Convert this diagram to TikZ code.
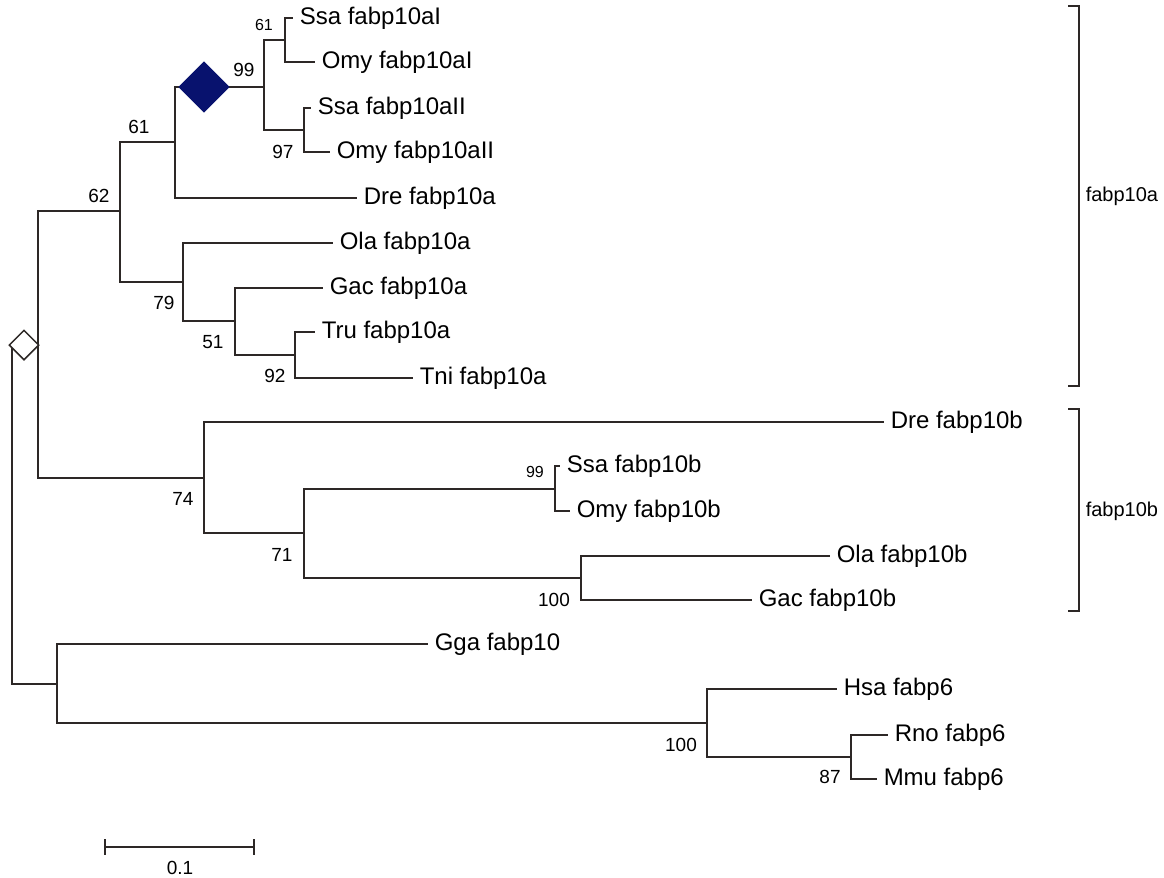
\documentclass[tikz,border=0pt]{standalone}
\usepackage{fontspec}
\setmainfont{Liberation Sans}
\usetikzlibrary{shapes.geometric}
\definecolor{navy}{RGB}{8,18,110}
\definecolor{treeline}{RGB}{45,40,38}

\begin{document}
\begin{tikzpicture}[x=0.5pt,y=-0.5pt,line width=0.75pt,draw=treeline,
  leaf/.style={anchor=west,inner xsep=3pt,inner ysep=0pt,font=\fontsize{12}{14}\selectfont},
  boot/.style={inner sep=0pt,font=\fontsize{9.5}{11}\selectfont},
  bootsmall/.style={inner sep=0pt,font=\fontsize{8}{10}\selectfont},
  clade/.style={anchor=west,inner sep=0pt,font=\fontsize{10}{12}\selectfont}]
\useasboundingbox[fill=white] (0,0) rectangle (1164,878);

% Knoten
\coordinate (root) at (12,345);
\coordinate (nfish) at (38,345);
\coordinate (n62) at (120,211);
\coordinate (n61) at (175,142);
\coordinate (n99) at (264,87);
\coordinate (n61t) at (285,40);
\coordinate (n97) at (304,130);
\coordinate (n79) at (183,282);
\coordinate (n51) at (235,321);
\coordinate (n92) at (295,355);
\coordinate (n74) at (204,478);
\coordinate (n71) at (304,533);
\coordinate (n99b) at (555,489);
\coordinate (n100b) at (581,578);
\coordinate (nout) at (57,684);
\coordinate (n100c) at (707,723);
\coordinate (n87) at (851,757);

% Blaetter
\node[leaf] (ssaI) at (293,18) {Ssa fabp10aI};
\node[leaf] (omyI) at (315,62) {Omy fabp10aI};
\node[leaf] (ssaII) at (311,108) {Ssa fabp10aII};
\node[leaf] (omyII) at (330,152) {Omy fabp10aII};
\node[leaf] (drea) at (357,198) {Dre fabp10a};
\node[leaf] (olaa) at (333,243) {Ola fabp10a};
\node[leaf] (gaca) at (323,288) {Gac fabp10a};
\node[leaf] (trua) at (315,332) {Tru fabp10a};
\node[leaf] (tnia) at (413,378) {Tni fabp10a};
\node[leaf] (dreb) at (884,422) {Dre fabp10b};
\node[leaf] (ssab) at (560,466) {Ssa fabp10b};
\node[leaf] (omyb) at (570,511) {Omy fabp10b};
\node[leaf] (olab) at (830,556) {Ola fabp10b};
\node[leaf] (gacb) at (752,600) {Gac fabp10b};
\node[leaf] (gga) at (428,644) {Gga fabp10};
\node[leaf] (hsa) at (837,689) {Hsa fabp6};
\node[leaf] (rno) at (888,735) {Rno fabp6};
\node[leaf] (mmu) at (877,779) {Mmu fabp6};

% Aeste
\draw (root) -- (nfish);
\draw (root) |- (nout);
\draw (nfish) |- (n62);
\draw (nfish) |- (n74);
\draw (n62) |- (n61);
\draw (n62) |- (n79);
\draw (n61) |- (n99);
\draw (n61) |- (drea.west);
\draw (n99) |- (n61t);
\draw (n99) |- (n97);
\draw (n61t) |- (ssaI.west);
\draw (n61t) |- (omyI.west);
\draw (n97) |- (ssaII.west);
\draw (n97) |- (omyII.west);
\draw (n79) |- (olaa.west);
\draw (n79) |- (n51);
\draw (n51) |- (gaca.west);
\draw (n51) |- (n92);
\draw (n92) |- (trua.west);
\draw (n92) |- (tnia.west);
\draw (n74) |- (dreb.west);
\draw (n74) |- (n71);
\draw (n71) |- (n99b);
\draw (n71) |- (n100b);
\draw (n99b) |- (ssab.west);
\draw (n99b) |- (omyb.west);
\draw (n100b) |- (olab.west);
\draw (n100b) |- (gacb.west);
\draw (nout) |- (gga.west);
\draw (nout) |- (n100c);
\draw (n100c) |- (hsa.west);
\draw (n100c) |- (n87);
\draw (n87) |- (rno.west);
\draw (n87) |- (mmu.west);

% Rauten
\node[diamond,draw,fill=white,inner sep=0pt,minimum size=15pt] (dup1) at (24,345) {};
\node[diamond,fill=navy,inner sep=0pt,minimum size=26pt] (dup2) at (204,87) {};

% Bootstrap
\node[bootsmall] (b61t) at (264,25) {61};
\node[boot] (b99) at (244,70) {99};
\node[boot] (b97) at (283,152) {97};
\node[boot] (b61) at (139,127) {61};
\node[boot] (b62) at (99,196) {62};
\node[boot] (b79) at (164,303) {79};
\node[boot] (b51) at (213,342) {51};
\node[boot] (b92) at (275,376) {92};
\node[boot] (b74) at (183,499) {74};
\node[boot] (b71) at (282,555) {71};
\node[bootsmall] (b99b) at (535,472) {99};
\node[boot] (b100b) at (554,600) {100};
\node[boot] (b100c) at (681,745) {100};
\node[boot] (b87) at (830,777) {87};

% Klammern
\draw (1068,6) -- (1079,6) -- (1079,386) -- (1068,386);
\node[clade] (ca) at (1085,196) {fabp10a};
\draw (1068,409) -- (1079,409) -- (1079,611) -- (1068,611);
\node[clade] (cb) at (1085,511) {fabp10b};

% Massstab
\draw (105,847) -- (254,847);
\draw (105,839) -- (105,855);
\draw (254,839) -- (254,855);
\node[boot] (sc) at (180,868) {0.1};
\end{tikzpicture}
\end{document}
